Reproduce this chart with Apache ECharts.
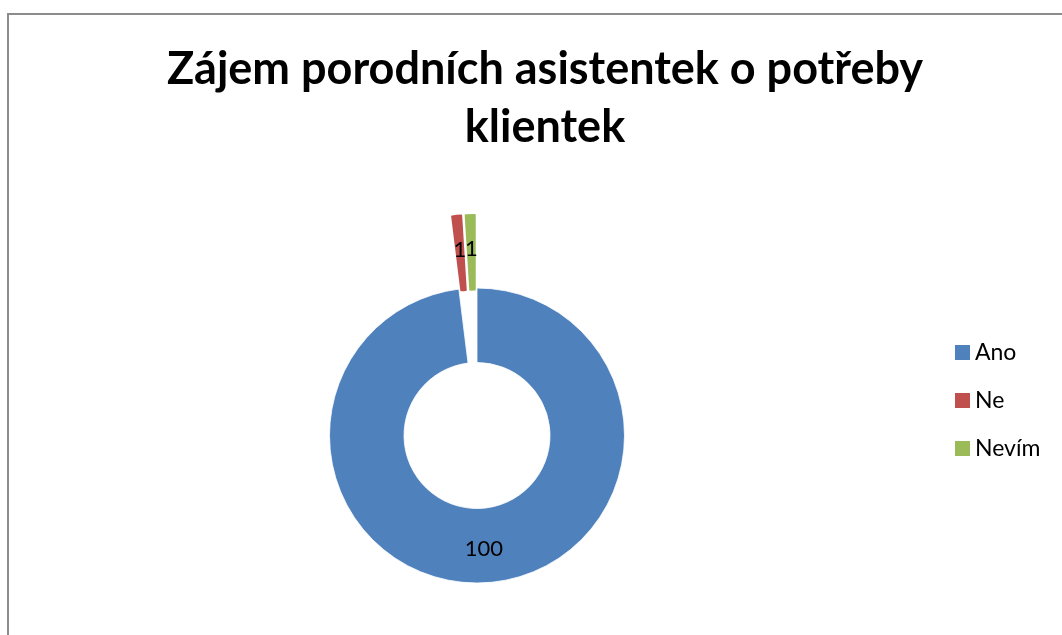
<!DOCTYPE html>
<html>
<head>
<meta charset="utf-8">
<script src="https://cdn.jsdelivr.net/npm/echarts@6/dist/echarts.min.js"></script>
<style>
html,body{margin:0;padding:0;background:#fff;}
#c{width:1062px;height:635px;}
</style>
</head>
<body>
<div id="c"></div>
<script>
const categories = ['Ano', 'Ne', 'Nevím'];
const values = [100, 1, 1];
const exploded = [false, true, true];
const colors = ['#4F81BD', '#C0504D', '#9BBB59'];
const titleText = 'Zájem porodních asistentek o potřeby\nklientek';

const chart = echarts.init(document.getElementById('c'));
const font = 'Lato, "Open Sans", sans-serif';
chart.setOption({
  animation: false,
  color: colors,
  title: {
    text: titleText,
    left: 540,
    textAlign: 'center',
    top: 35,
    textStyle: { fontFamily: font, fontSize: 45, fontWeight: 'bold', color: '#000', lineHeight: 58 }
  },
  legend: {
    orient: 'vertical',
    left: 950,
    top: 336,
    itemWidth: 15,
    itemHeight: 15,
    itemGap: 25,
    icon: 'rect',
    itemStyle: { borderWidth: 0 },
    textStyle: { fontFamily: font, fontSize: 23, color: '#000', padding: [0, 0, 0, 0] },
    data: categories
  },
  graphic: [{
    type: 'rect',
    shape: { x: 8, y: 14, width: 1100, height: 700 },
    style: { fill: 'none', stroke: '#8c8c8c', lineWidth: 2 },
    silent: true
  }],
  series: [{
    type: 'pie',
    center: [477, 435.5],
    radius: [73, 147.5],
    startAngle: 90,
    clockwise: true,
    selectedMode: 'multiple',
    selectedOffset: 73,
    avoidLabelOverlap: false,
    labelLayout: { hideOverlap: false },
    itemStyle: { borderColor: '#fff', borderWidth: 0.8 },
    label: { show: true, position: 'inside', formatter: '{c}', color: '#000', fontFamily: font, fontSize: 22 },
    labelLine: { show: false },
    emphasis: { disabled: true },
    data: categories.map((n, i) => ({
      name: n,
      value: values[i],
      selected: exploded[i],
      itemStyle: exploded[i] ? { borderColor: colors[i], borderWidth: 2 } : {}
    }))
  }]
});
</script>
</body>
</html>
